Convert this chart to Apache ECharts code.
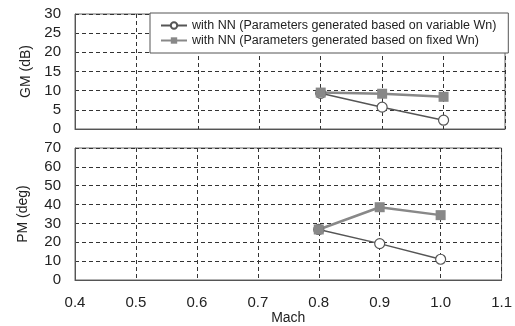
<!DOCTYPE html>
<html><head><meta charset="utf-8">
<script src="https://cdn.jsdelivr.net/npm/echarts@6/dist/echarts.min.js"></script>
<style>html,body{margin:0;padding:0;background:#fff}#c{width:515px;height:326px}</style>
</head><body><div id="c"></div>
<script>
const mach = [0.8, 0.9, 1.0];
const gmVariable = [9.3, 5.7, 2.3];
const gmFixed = [9.5, 9.2, 8.4];
const pmVariable = [26.8, 19.3, 11.0];
const pmFixed = [26.8, 38.6, 34.4];
const nameVariable = 'with NN (Parameters generated based on variable Wn)';
const nameFixed = 'with NN (Parameters generated based on fixed Wn)';

const pair = (xs, ys) => xs.map((x, i) => [x, ys[i]]);
const font = 'Liberation Sans, Arial, sans-serif';
const dash = {show: true, lineStyle: {color: '#333', type: [4, 3], width: 1}};
const chart = echarts.init(document.getElementById('c'), null, {renderer: 'canvas'});
const xBase = (idx, showLabel) => ({
  type: 'value', gridIndex: idx, min: 0.4, max: 1.1, interval: 0.1,
  axisLine: {show: true, onZero: false, lineStyle: {color: '#555', width: 1}},
  axisTick: {show: false},
  splitLine: dash,
  axisLabel: {show: showLabel, color: '#222', fontSize: 15, fontFamily: font, margin: 15,
    formatter: v => v.toFixed(1)},
  name: showLabel ? 'Mach' : '', nameLocation: 'middle', nameGap: 31,
  nameTextStyle: {color: '#222', fontSize: 14, fontFamily: font}
});
const yBase = (idx, max, interval, name, gap) => ({
  type: 'value', gridIndex: idx, min: 0, max: max, interval: interval,
  axisLine: {show: true, lineStyle: {color: '#555', width: 1}},
  axisTick: {show: false},
  splitLine: dash,
  axisLabel: {color: '#222', fontSize: 15, fontFamily: font, margin: 14},
  name: name, nameLocation: 'middle', nameGap: gap,
  nameTextStyle: {color: '#222', fontSize: 14, fontFamily: font}
});
chart.setOption({
  animation: false,
  backgroundColor: '#fff',
  grid: [
    {left: 75, right: 10, top: 14, height: 115, show: true, borderColor: '#666', borderWidth: 1},
    {left: 75, right: 10, top: 148, height: 134, show: true, borderColor: '#666', borderWidth: 1}
  ],
  xAxis: [xBase(0, false), xBase(1, true)],
  yAxis: [yBase(0, 30, 5, 'GM (dB)', 39), yBase(1, 70, 10, 'PM (deg)', 45)],
  legend: {
    orient: 'vertical', left: 150, top: 13, itemGap: 0, itemWidth: 26, itemHeight: 8,
    backgroundColor: '#fff', borderColor: '#555', borderWidth: 1, padding: [5, 12, 5, 10],
    textStyle: {color: '#222', fontSize: 12.5, fontFamily: font, lineHeight: 15},
    data: [nameVariable, nameFixed]
  },
  series: [
    {name: nameVariable, type: 'line', xAxisIndex: 0, yAxisIndex: 0, data: pair(mach, gmVariable),
      symbol: 'circle', symbolSize: 10, lineStyle: {color: '#555', width: 1.5},
      itemStyle: {color: '#fff', borderColor: '#555', borderWidth: 1.2}},
    {name: nameFixed, type: 'line', xAxisIndex: 0, yAxisIndex: 0, data: pair(mach, gmFixed),
      symbol: 'rect', symbolSize: 10, lineStyle: {color: '#888', width: 2.5},
      itemStyle: {color: '#888'}},
    {name: nameVariable, type: 'line', xAxisIndex: 1, yAxisIndex: 1, data: pair(mach, pmVariable),
      symbol: 'circle', symbolSize: 10, lineStyle: {color: '#555', width: 1.5},
      itemStyle: {color: '#fff', borderColor: '#555', borderWidth: 1.2}},
    {name: nameFixed, type: 'line', xAxisIndex: 1, yAxisIndex: 1, data: pair(mach, pmFixed),
      symbol: 'rect', symbolSize: 10, lineStyle: {color: '#888', width: 2.5},
      itemStyle: {color: '#888'}}
  ]
});
</script></body></html>
